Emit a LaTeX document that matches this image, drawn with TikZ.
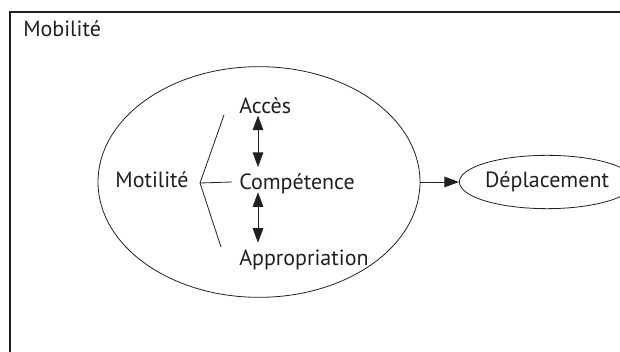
\documentclass[tikz,border=0pt]{standalone}
\usepackage{fontspec}
\setmainfont{PT Sans}
\usetikzlibrary{arrows.meta,shapes.geometric}
\definecolor{ink}{HTML}{231F20}

\begin{document}
\begin{tikzpicture}[x=0.75pt,y=-0.75pt,font=\fontsize{16.5}{19}\selectfont,color=ink,
  >={Triangle[length=11pt,width=8pt]},
  oval/.style={draw=ink,ellipse,line width=0.6pt,inner sep=0pt},
  term/.style={anchor=base west,inner sep=0pt,text height=17pt,text depth=1.5pt},
  link/.style={<->,line width=0.7pt},
  fork/.style={line width=0.6pt}]
\useasboundingbox (0,0) rectangle (620,352);
\draw[line width=1.2pt] (10,12) rectangle (640,372);
\node[anchor=base west,inner sep=0pt] (mob) at (23,37) {Mobilité};
\node[oval,minimum width=241.5pt,minimum height=173pt] (zone) at (259,182) {};
\node[oval,minimum width=101pt,minimum height=40pt] (depl) at (547,182) {Déplacement};
\node[anchor=base,inner sep=0pt] (moti) at (152,188) {Motilité};
\node[term] (acc) at (239,113.3) {Accès};
\node[term] (comp) at (239,190) {Compétence};
\node[term] (appr) at (239,265.7) {Appropriation};
\coordinate (fk) at (200,183);
\coordinate (fa) at (224,115);
\coordinate (fb) at (232,182);
\coordinate (fc) at (221,247);
\coordinate (ax) at (258,0);
\draw[fork] (fa) -- (fk) -- (fc);
\draw[fork] (fk) -- (fb);
\draw[link] (acc.south -| ax) -- (comp.north -| ax);
\draw[link] (comp.south -| ax) -- (appr.north -| ax);
\draw[->,line width=0.7pt] (zone) -- (depl);
\end{tikzpicture}
\end{document}
